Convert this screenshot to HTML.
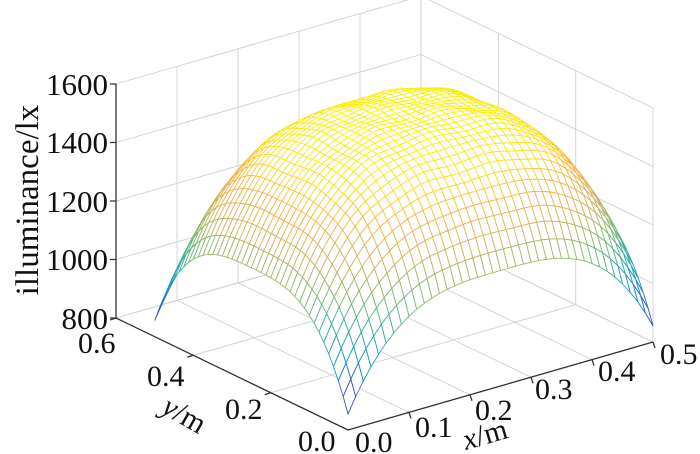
<!DOCTYPE html>
<html><head><meta charset="utf-8"><style>
html,body{margin:0;padding:0;background:#fff;}
svg{display:block;}
text{font-family:"Liberation Serif",serif;fill:#111;}
</style></head><body>
<svg id="s" width="700" height="454" viewBox="0 0 700 454" xmlns="http://www.w3.org/2000/svg">
<g id="grid" stroke="#d0d0d0" stroke-width="0.9" fill="none"></g>
<g id="mesh" stroke-width="0.9"></g>
<g stroke="#333" stroke-width="1.3" fill="none">
<line x1="116" y1="84" x2="116" y2="318"/>
<line x1="116" y1="318" x2="348" y2="430"/>
<line x1="348" y1="430" x2="653" y2="342"/>
<path d="M116 84h-6M116 142.5h-6M116 201h-6M116 259.5h-6M116 318h-6"/>
<path id="ticks"/>
</g>
<g font-size="31" text-anchor="end">
<text x="108" y="95">1600</text>
<text x="108" y="153">1400</text>
<text x="108" y="212">1200</text>
<text x="108" y="270">1000</text>
<text x="108" y="329">800</text>
</g>
<g font-size="30">
<text x="78" y="353">0.6</text>
<text x="147" y="386">0.4</text>
<text x="225" y="419">0.2</text>
<text x="298" y="451">0.0</text>
<text x="355" y="452">0.0</text>
<text x="415" y="437">0.1</text>
<text x="475" y="420">0.2</text>
<text x="535" y="399">0.3</text>
<text x="598" y="381">0.4</text>
<text x="660" y="364">0.5</text>
</g>
<text font-size="33" transform="translate(38,200) rotate(-90)" text-anchor="middle">illuminance/lx</text>
<text font-size="30" transform="translate(160,412) rotate(30)"><tspan font-style="italic">y</tspan>/m</text>
<text font-size="30" transform="translate(466,450) rotate(-16)"><tspan font-style="italic">x</tspan>/m</text>
</svg>
<script>
function P(x,y,z){return [348+x*610-y*386.7, 430-x*176-y*186.7-(z-800)*0.2925];}
var g=document.getElementById('grid'),s='';
function L(a,b){s+='<line x1="'+a[0].toFixed(1)+'" y1="'+a[1].toFixed(1)+'" x2="'+b[0].toFixed(1)+'" y2="'+b[1].toFixed(1)+'"/>';}
for(var z=800;z<=1600;z+=200){L(P(0,0.6,z),P(0.5,0.6,z));L(P(0.5,0.6,z),P(0.5,0,z));}
for(var x=0;x<=0.501;x+=0.1){L(P(x,0.6,800),P(x,0.6,1600));L(P(x,0,800),P(x,0.6,800));}
for(var y=0;y<=0.601;y+=0.2){L(P(0.5,y,800),P(0.5,y,1600));L(P(0,y,800),P(0.5,y,800));}
g.innerHTML=s;
var t='';
for(var x=0.1;x<=0.501;x+=0.1){var a=P(x,0,800);t+='M'+a[0].toFixed(1)+' '+a[1].toFixed(1)+'l2 6';}
for(var y=0.2;y<=0.601;y+=0.2){var a=P(0,y,800);t+='M'+a[0].toFixed(1)+' '+a[1].toFixed(1)+'l-6 2';}
document.getElementById('ticks').setAttribute('d',t);
function sh(u){var w=Math.abs(2*u-1);return 1-Math.pow(w,3.2);}
function Z(x,y){var a=sh(x/0.5),b=sh(y/0.5);return 855+340*a+340*b+45*a*b+6*Math.sin(x*60)*Math.sin(y*50)*a*b;}
var st=[[860,[0.28,0.2,0.6]],[940,[0.15,0.42,0.82]],[1010,[0.1,0.6,0.75]],[1080,[0.2,0.68,0.62]],[1170,[0.5,0.73,0.45]],[1280,[0.85,0.7,0.38]],[1380,[0.97,0.72,0.3]],[1470,[0.98,0.88,0.15]],[1580,[0.98,0.95,0.08]]];
function col(z){if(z<=st[0][0])z=st[0][0];if(z>=st[st.length-1][0])z=st[st.length-1][0]-0.01;for(var i=0;i<st.length-1;i++){if(z<st[i+1][0]){var f=(z-st[i][0])/(st[i+1][0]-st[i][0]);var c=st[i][1].map(function(q,k){return Math.round(255*(q+(st[i+1][1][k]-q)*f));});return 'rgb('+c+')';}}}
var N=40,q=[];
for(var i=0;i<N;i++)for(var j=0;j<N;j++){
var x0=0.5*i/N,x1=0.5*(i+1)/N,y0=0.5*j/N,y1=0.5*(j+1)/N;
var zs=[Z(x0,y0),Z(x1,y0),Z(x1,y1),Z(x0,y1)];
var pts=[P(x0,y0,zs[0]),P(x1,y0,zs[1]),P(x1,y1,zs[2]),P(x0,y1,zs[3])];
var d=-(x0+x1)*176-(y0+y1)*186.7;
var zm=(zs[0]+zs[1]+zs[2]+zs[3])/4;
q.push([d,pts,zm]);}
q.sort(function(a,b){return a[0]-b[0];});
var m='';
q.forEach(function(o){m+='<polygon fill="#fff" stroke="'+col(o[2])+'" points="'+o[1].map(function(p){return p[0].toFixed(1)+','+p[1].toFixed(1);}).join(' ')+'"/>';});
document.getElementById('mesh').innerHTML=m;
</script>
</body></html>
